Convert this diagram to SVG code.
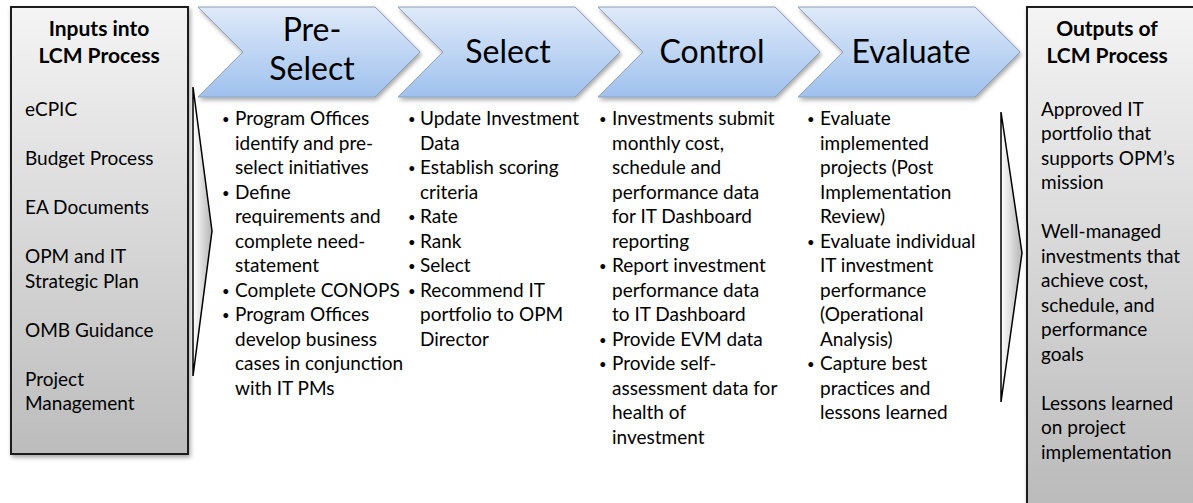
<svg xmlns="http://www.w3.org/2000/svg" width="1193" height="503" viewBox="0 0 1193 503">
<defs>
<linearGradient id="gBox" x1="0" y1="0" x2="0" y2="1">
<stop offset="0" stop-color="#f4f4f4"/>
<stop offset="1" stop-color="#bcbcbc"/>
</linearGradient>
<linearGradient id="gBoxR" x1="0" y1="0" x2="0" y2="1">
<stop offset="0" stop-color="#f4f4f4"/>
<stop offset="1" stop-color="#b9b9b9"/>
</linearGradient>
<linearGradient id="gChev" x1="0" y1="0" x2="0" y2="1">
<stop offset="0" stop-color="#dfeaf9"/>
<stop offset="1" stop-color="#9fc1ee"/>
</linearGradient>
<linearGradient id="gBr" x1="0" y1="0" x2="1" y2="0">
<stop offset="0" stop-color="#ffffff"/>
<stop offset="1" stop-color="#b5b5b5"/>
</linearGradient>
<filter id="sh" x="-10%" y="-10%" width="130%" height="130%">
<feDropShadow dx="1.5" dy="2.5" stdDeviation="2" flood-color="#000" flood-opacity="0.35"/>
</filter>
</defs>
<style>
.box{stroke:#1e1e1e;stroke-width:2}
.chev{fill:url(#gChev);stroke:#8aa0bc;stroke-width:1}
.br{fill:url(#gBr);stroke:#000;stroke-width:1.5;stroke-linejoin:miter}
text{font-family:Lato,"Liberation Sans",sans-serif;fill:#000}
.t{font-size:21px;font-weight:bold;text-anchor:middle}
.b{font-size:19px}
.d{font-size:13px}
.h{font-size:32px;text-anchor:middle}
</style>

<g id="inputs">
<rect class="box" x="11" y="7" width="177" height="447" fill="url(#gBox)" filter="url(#sh)"/>
<text class="t" x="99" y="36">Inputs into</text>
<text class="t" x="99" y="63">LCM Process</text>
<text class="b">
<tspan x="25" y="116">eCPIC</tspan>
<tspan x="25" y="165">Budget Process</tspan>
<tspan x="25" y="214">EA Documents</tspan>
<tspan x="25" y="263">OPM and IT</tspan>
<tspan x="25" y="287.5">Strategic Plan</tspan>
<tspan x="25" y="336.5">OMB Guidance</tspan>
<tspan x="25" y="385.5">Project</tspan>
<tspan x="25" y="410">Management</tspan>
</text>
</g>

<g id="outputs">
<rect class="box" x="1027" y="7" width="175" height="510" fill="url(#gBoxR)" filter="url(#sh)"/>
<text class="t" x="1107" y="36">Outputs of</text>
<text class="t" x="1107" y="63">LCM Process</text>
<text class="b">
<tspan x="1041" y="115.5">Approved IT</tspan>
<tspan x="1041" y="140">portfolio that</tspan>
<tspan x="1041" y="164.5">supports OPM’s</tspan>
<tspan x="1041" y="189">mission</tspan>
<tspan x="1041" y="238">Well-managed</tspan>
<tspan x="1041" y="262.5">investments that</tspan>
<tspan x="1041" y="287">achieve cost,</tspan>
<tspan x="1041" y="311.5">schedule, and</tspan>
<tspan x="1041" y="336">performance</tspan>
<tspan x="1041" y="360.5">goals</tspan>
<tspan x="1041" y="409.5">Lessons learned</tspan>
<tspan x="1041" y="434">on project</tspan>
<tspan x="1041" y="458.5">implementation</tspan>
</text>
</g>

<g id="preselect">
<path class="chev" filter="url(#sh)" d="M198,7 L375,7 L420,52 L375,97 L198,97 L243,52 Z"/>
<text class="h" x="312" y="41">Pre-</text>
<text class="h" x="312" y="80">Select</text>
<text class="b">
<tspan class="d" x="222" y="124">•</tspan><tspan x="235" y="125">Program Offices</tspan>
<tspan x="235" y="149.5">identify and pre-</tspan>
<tspan x="235" y="174">select initiatives</tspan>
<tspan class="d" x="222" y="197.5">•</tspan><tspan x="235" y="198.5">Define</tspan>
<tspan x="235" y="223">requirements and</tspan>
<tspan x="235" y="247.5">complete need-</tspan>
<tspan x="235" y="272">statement</tspan>
<tspan class="d" x="222" y="295.5">•</tspan><tspan x="235" y="296.5">Complete CONOPS</tspan>
<tspan class="d" x="222" y="320">•</tspan><tspan x="235" y="321">Program Offices</tspan>
<tspan x="235" y="345.5">develop business</tspan>
<tspan x="235" y="370">cases in conjunction</tspan>
<tspan x="235" y="394.5">with IT PMs</tspan>
</text>
</g>

<g id="select">
<path class="chev" filter="url(#sh)" d="M398,7 L575,7 L620,52 L575,97 L398,97 L443,52 Z"/>
<text class="h" x="508" y="63">Select</text>
<text class="b">
<tspan class="d" x="408" y="124">•</tspan><tspan x="420" y="125">Update Investment</tspan>
<tspan x="420" y="149.5">Data</tspan>
<tspan class="d" x="408" y="173">•</tspan><tspan x="420" y="174">Establish scoring</tspan>
<tspan x="420" y="198.5">criteria</tspan>
<tspan class="d" x="408" y="222">•</tspan><tspan x="420" y="223">Rate</tspan>
<tspan class="d" x="408" y="246.5">•</tspan><tspan x="420" y="247.5">Rank</tspan>
<tspan class="d" x="408" y="271">•</tspan><tspan x="420" y="272">Select</tspan>
<tspan class="d" x="408" y="295.5">•</tspan><tspan x="420" y="296.5">Recommend IT</tspan>
<tspan x="420" y="321">portfolio to OPM</tspan>
<tspan x="420" y="345.5">Director</tspan>
</text>
</g>

<g id="control">
<path class="chev" filter="url(#sh)" d="M598,7 L775,7 L820,52 L775,97 L598,97 L643,52 Z"/>
<text class="h" x="712" y="63">Control</text>
<text class="b">
<tspan class="d" x="599" y="124">•</tspan><tspan x="612" y="125">Investments submit</tspan>
<tspan x="612" y="149.5">monthly cost,</tspan>
<tspan x="612" y="174">schedule and</tspan>
<tspan x="612" y="198.5">performance data</tspan>
<tspan x="612" y="223">for IT Dashboard</tspan>
<tspan x="612" y="247.5">reporting</tspan>
<tspan class="d" x="599" y="271">•</tspan><tspan x="612" y="272">Report investment</tspan>
<tspan x="612" y="296.5">performance data</tspan>
<tspan x="612" y="321">to IT Dashboard</tspan>
<tspan class="d" x="599" y="344.5">•</tspan><tspan x="612" y="345.5">Provide EVM data</tspan>
<tspan class="d" x="599" y="369">•</tspan><tspan x="612" y="370">Provide self-</tspan>
<tspan x="612" y="394.5">assessment data for</tspan>
<tspan x="612" y="419">health of</tspan>
<tspan x="612" y="443.5">investment</tspan>
</text>
</g>

<g id="evaluate">
<path class="chev" filter="url(#sh)" d="M798,7 L975,7 L1020,52 L975,97 L798,97 L843,52 Z"/>
<text class="h" x="911" y="63">Evaluate</text>
<text class="b">
<tspan class="d" x="807" y="124">•</tspan><tspan x="820" y="125">Evaluate</tspan>
<tspan x="820" y="149.5">implemented</tspan>
<tspan x="820" y="174">projects (Post</tspan>
<tspan x="820" y="198.5">Implementation</tspan>
<tspan x="820" y="223">Review)</tspan>
<tspan class="d" x="807" y="246.5">•</tspan><tspan x="820" y="247.5">Evaluate individual</tspan>
<tspan x="820" y="272">IT investment</tspan>
<tspan x="820" y="296.5">performance</tspan>
<tspan x="820" y="321">(Operational</tspan>
<tspan x="820" y="345.5">Analysis)</tspan>
<tspan class="d" x="807" y="369">•</tspan><tspan x="820" y="370">Capture best</tspan>
<tspan x="820" y="394.5">practices and</tspan>
<tspan x="820" y="419">lessons learned</tspan>
</text>
</g>

<g id="connectors">
<path class="br" d="M193,87 L212,231 L193,376 Z"/>
<path class="br" d="M1001,112 L1022,253 L1001,402 Z"/>
</g>
</svg>
